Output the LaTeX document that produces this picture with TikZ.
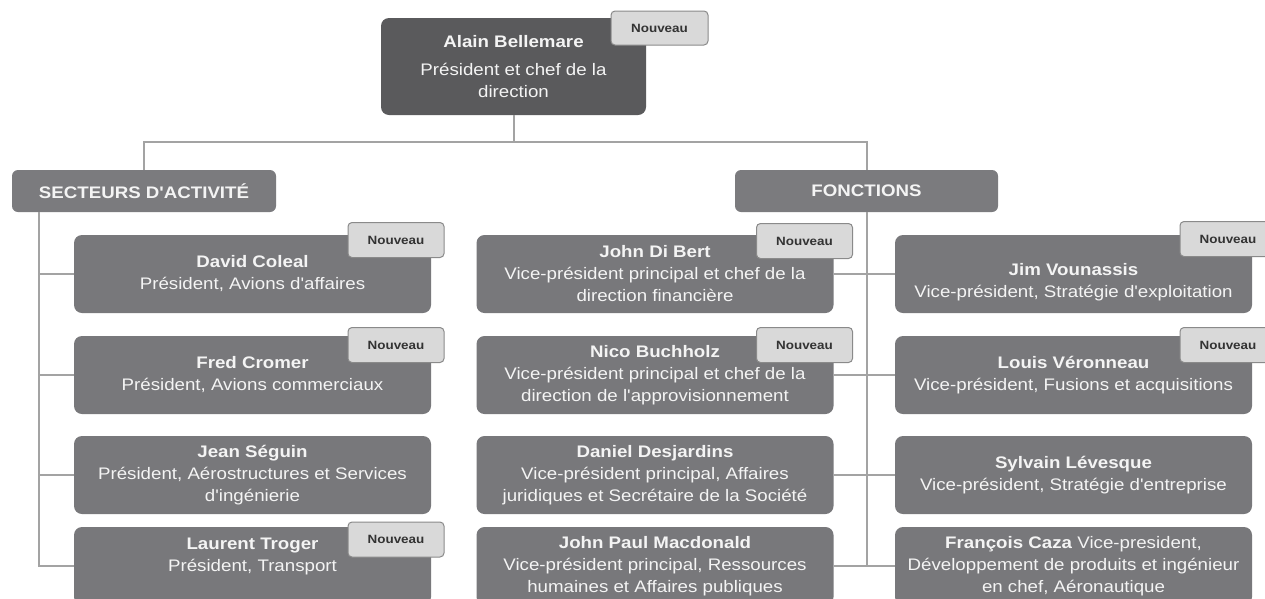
\documentclass[tikz,border=0pt]{standalone}
\usepackage{fontspec}
\setmainfont{Liberation Sans}[FakeStretch=1.12, Ligatures=TeXOff]
\definecolor{boxgray}{HTML}{78787B}
\definecolor{topgray}{HTML}{5A5A5C}
\definecolor{hdrgray}{HTML}{7B7B7E}
\definecolor{taggray}{HTML}{D9D9D9}
\definecolor{tagline}{HTML}{8A8A8A}
\definecolor{linegray}{HTML}{A3A3A3}
\definecolor{txt}{HTML}{F4F4F4}
\definecolor{tagtxt}{HTML}{333333}
\tikzset{
  person/.style={fill=boxgray, rounded corners=8pt, text=txt, minimum width=357pt,
    minimum height=78pt, align=center, inner sep=0pt, font=\fontsize{16.7}{22}\selectfont},
  chief/.style={person, fill=topgray, minimum width=265pt, minimum height=97pt},
  header/.style={fill=hdrgray, rounded corners=6pt, text=txt, minimum width=264pt,
    minimum height=42pt, inner sep=0pt, font=\bfseries\fontsize{16.7}{20}\selectfont},
  tag/.style={fill=taggray, draw=tagline, line width=1pt, rounded corners=4pt, text=tagtxt,
    minimum width=96pt, minimum height=35pt, inner sep=0pt, font=\bfseries\fontsize{12}{14}\selectfont},
  conn/.style={draw=linegray, line width=2pt}
}
\begin{document}
\begin{tikzpicture}[x=1pt,y=-1pt]
\useasboundingbox (0,0) rectangle (1265,598);
\clip (0,0) rectangle (1265,598);
\fill[white] (0,0) rectangle (1265,598);

% nodes
\node[chief] (ceo) at (513.5,66.5) {\textbf{Alain Bellemare}\\[6pt]Président et chef de la\\direction};
\node[header] (sect) at (144,191) {SECTEURS D'ACTIVITÉ};
\node[header, minimum width=263pt] (fonc) at (866.5,191) {FONCTIONS};

\node[person] (coleal) at (252.5,274) {\textbf{David Coleal}\\Président, Avions d'affaires};
\node[person] (cromer) at (252.5,375) {\textbf{Fred Cromer}\\Président, Avions commerciaux};
\node[person] (seguin) at (252.5,475) {\textbf{Jean Séguin}\\Président, Aérostructures et Services\\d'ingénierie};
\node[person] (troger) at (252.5,566) {\textbf{Laurent Troger}\\Président, Transport\\\mbox{}};

\node[person] (dibert) at (655,274) {\textbf{John Di Bert}\\Vice-président principal et chef de la\\direction financière};
\node[person] (buchholz) at (655,375) {\textbf{Nico Buchholz}\\Vice-président principal et chef de la\\direction de l'approvisionnement};
\node[person] (desjardins) at (655,475) {\textbf{Daniel Desjardins}\\Vice-président principal, Affaires\\juridiques et Secrétaire de la Société};
\node[person] (macdonald) at (655,566) {\textbf{John Paul Macdonald}\\Vice-président principal, Ressources\\humaines et Affaires publiques};

\node[person] (vounassis) at (1073.5,274) {\\[6pt]\textbf{Jim Vounassis}\\Vice-président, Stratégie d'exploitation};
\node[person] (veronneau) at (1073.5,375) {\textbf{Louis Véronneau}\\Vice-président, Fusions et acquisitions};
\node[person] (levesque) at (1073.5,475) {\textbf{Sylvain Lévesque}\\Vice-président, Stratégie d'entreprise};
\node[person] (caza) at (1073.5,566) {\textbf{François Caza} Vice-president,\\Développement de produits et ingénieur\\en chef, Aéronautique};

% connectors
\coordinate (bus) at (513.5,142);
\coordinate (trunkL) at (39,0);
\coordinate (trunkR) at (867,0);
\draw[conn] (ceo.south) -- (ceo.south |- bus);
\draw[conn] (sect.north) |- (bus) -| (fonc.north);
\draw[conn] (sect.south -| trunkL) -- (trunkL |- troger.west) -- (troger.west);
\draw[conn] (trunkL |- coleal.west) -- (coleal.west);
\draw[conn] (trunkL |- cromer.west) -- (cromer.west);
\draw[conn] (trunkL |- seguin.west) -- (seguin.west);
\draw[conn] (fonc.south -| trunkR) -- (trunkR |- caza.west);
\draw[conn] (dibert.east) -- (vounassis.west);
\draw[conn] (buchholz.east) -- (veronneau.west);
\draw[conn] (desjardins.east) -- (levesque.west);
\draw[conn] (macdonald.east) -- (caza.west);

% tags
\node[tag, minimum width=97pt, minimum height=34pt] (tceo) at (659.5,28) {Nouveau};
\node[tag] (tcoleal) at (396,240) {Nouveau};
\node[tag] (tcromer) at (396,345) {Nouveau};
\node[tag] (ttroger) at (396,539.5) {Nouveau};
\node[tag] (tdibert) at (804.5,241) {Nouveau};
\node[tag] (tbuchholz) at (804.5,345) {Nouveau};
\node[tag] (tvounassis) at (1228,239) {Nouveau};
\node[tag] (tveronneau) at (1228,345) {Nouveau};
\end{tikzpicture}
\end{document}
